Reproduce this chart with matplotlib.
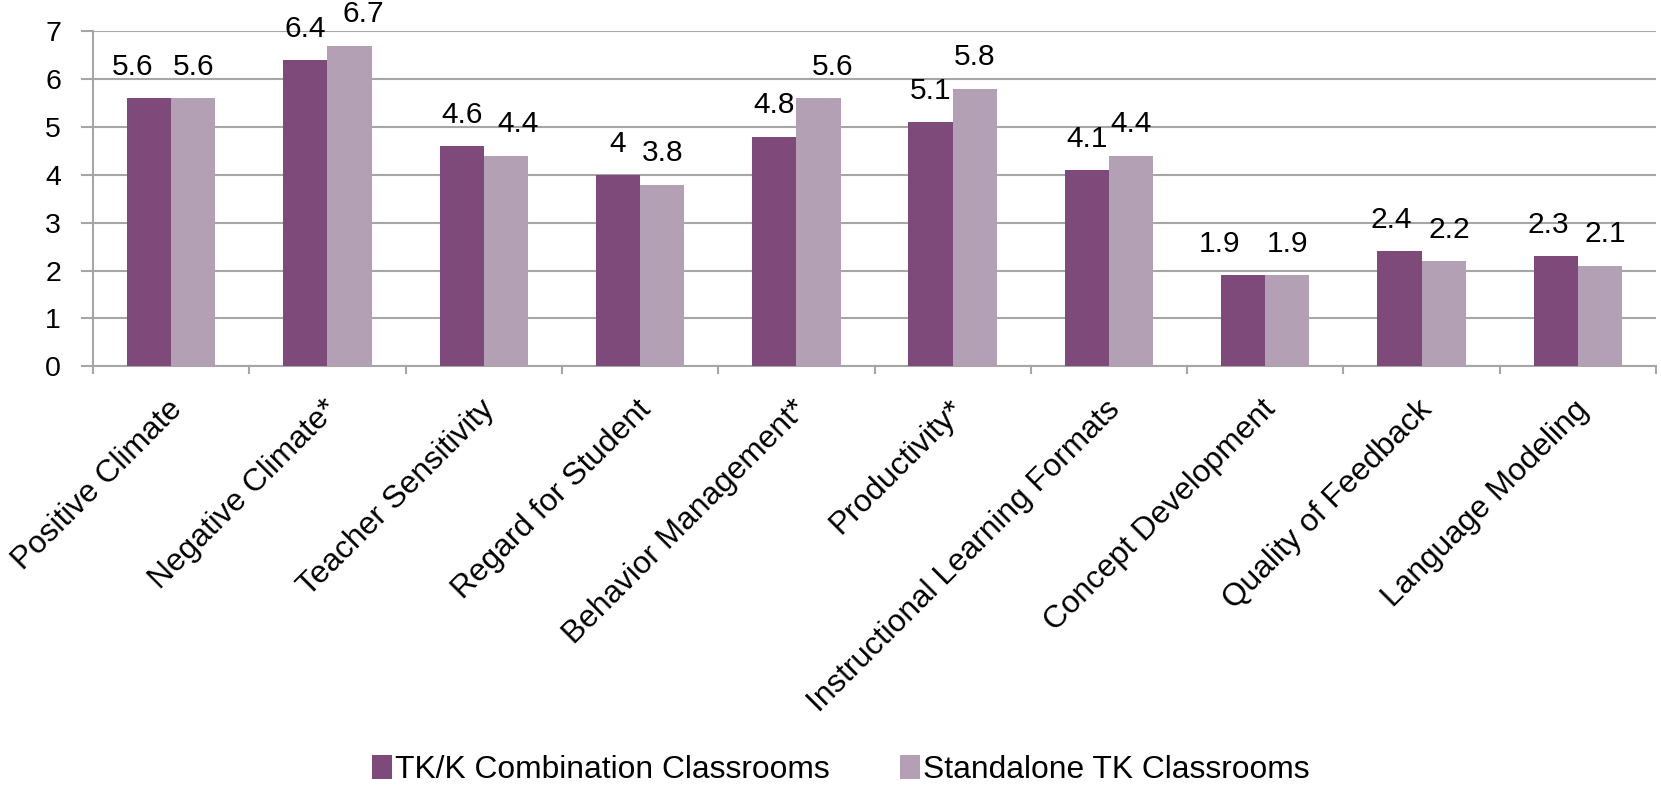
import numpy as np
import matplotlib.pyplot as plt

plt.rcParams['font.family'] = ['Liberation Sans', 'DejaVu Sans']

categories = ["Positive Climate", "Negative Climate*", "Teacher Sensitivity",
              "Regard for Student", "Behavior Management*", "Productivity*",
              "Instructional Learning Formats", "Concept Development",
              "Quality of Feedback", "Language Modeling"]
combo_vals = [5.6, 6.4, 4.6, 4.0, 4.8, 5.1, 4.1, 1.9, 2.4, 2.3]
standalone_vals = [5.6, 6.7, 4.4, 3.8, 5.6, 5.8, 4.4, 1.9, 2.2, 2.1]
value_labels_combo = ["5.6", "6.4", "4.6", "4", "4.8", "5.1", "4.1", "1.9", "2.4", "2.3"]
value_labels_standalone = ["5.6", "6.7", "4.4", "3.8", "5.6", "5.8", "4.4", "1.9", "2.2", "2.1"]
series_names = ["TK/K Combination Classrooms", "Standalone TK Classrooms"]

DARK = "#7E4A7A"
LIGHT = "#B4A0B4"
GRID = "#A6A6A6"

# sideways nudge (points) for labels that would otherwise collide
nudge_combo = [-12, 0, 0, 0, 0, 0, 0, -17, -6, -5]
nudge_standalone = [0, 10, 9, 0, 10, 0, 0, 0, 4, 4]

fig = plt.figure(figsize=(16.61, 7.86), dpi=100)
ax = fig.add_axes([0.056, 0.534, 0.941, 0.426])

x = np.arange(len(categories))
w = 0.283
b1 = ax.bar(x - w / 2, combo_vals, w, color=DARK, label=series_names[0], zorder=3)
b2 = ax.bar(x + w / 2, standalone_vals, w, color=LIGHT, label=series_names[1], zorder=3)

for bars, labels, nudge in ((b1, value_labels_combo, nudge_combo),
                            (b2, value_labels_standalone, nudge_standalone)):
    for rect, txt, dx in zip(bars, labels, nudge):
        ax.annotate(txt, (rect.get_x() + rect.get_width() / 2, rect.get_height()),
                    xytext=(dx, 12.5), textcoords="offset points",
                    ha="center", va="bottom", fontsize=21.5)

ax.set_xlim(-0.5, len(categories) - 0.5)
ax.set_ylim(0, 7)
ax.set_yticks(range(8))
ax.yaxis.grid(True, color=GRID, linewidth=1.5, zorder=0)
ax.set_axisbelow(True)

# category boundaries carry the tick marks, labels sit at the centres
ax.set_xticks(np.arange(len(categories) + 1) - 0.5)
ax.set_xticklabels([])
ax.set_xticks(x + 0.04, minor=True)
ax.set_xticklabels(categories, minor=True, rotation=45, ha="right",
                   va="center", rotation_mode="anchor", fontsize=22.8)
ax.tick_params(axis="x", which="minor", length=0, pad=28)
ax.tick_params(axis="x", which="major", length=6, width=1.5, color=GRID)
ax.tick_params(axis="y", length=9, width=1.5, color=GRID, labelsize=20.5, pad=14)

for side in ("top", "right"):
    ax.spines[side].set_visible(False)
for side in ("left", "bottom"):
    ax.spines[side].set_color(GRID)
    ax.spines[side].set_linewidth(1.5)

fig.legend(handles=[b1, b2], loc="center left", bbox_to_anchor=(0.224, 0.0205),
           ncol=2, frameon=False, fontsize=22.9, handlelength=0.63,
           handleheight=0.78, handletextpad=0.1, columnspacing=2.2,
           borderpad=0, borderaxespad=0)

fig.savefig("out.png", dpi=100)
